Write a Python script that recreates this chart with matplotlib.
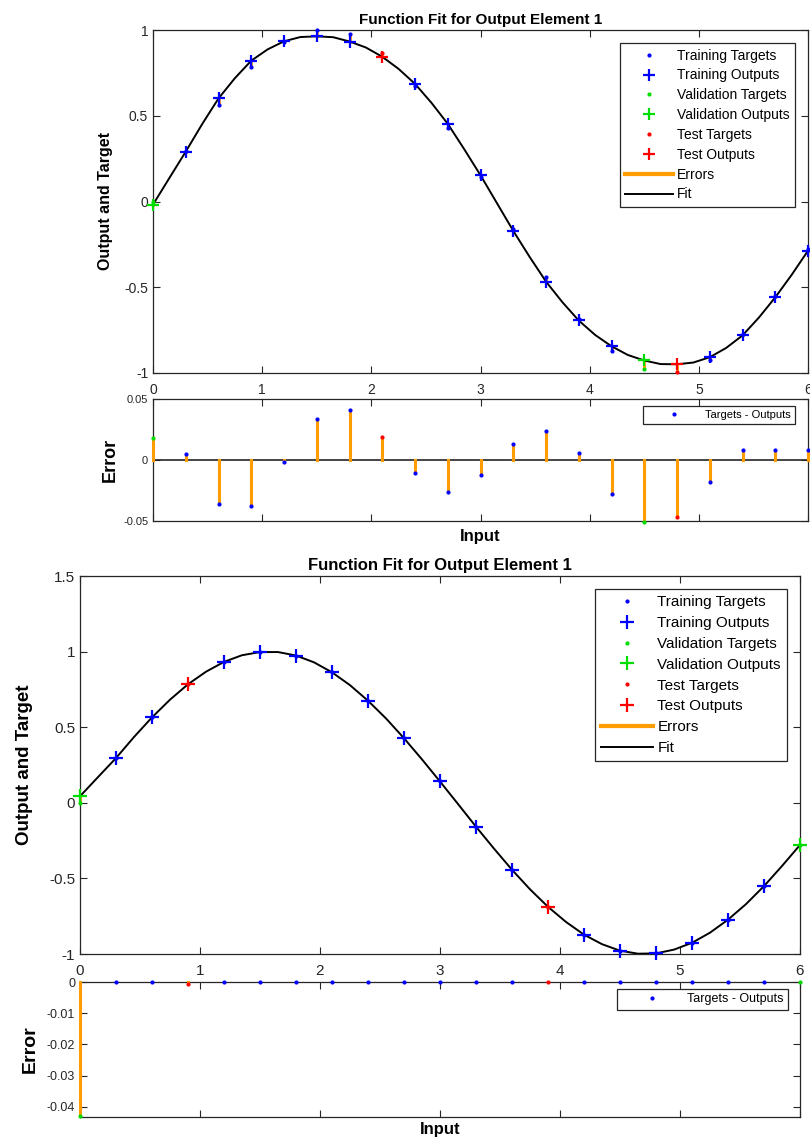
import numpy as np
import matplotlib
matplotlib.use("Agg")
import matplotlib.pyplot as plt
from matplotlib.lines import Line2D

plt.rcParams['font.family'] = ['Liberation Sans', 'DejaVu Sans']
plt.rcParams['axes.unicode_minus'] = False

# ---- data ----
inputs = [0.0, 0.3, 0.6, 0.9, 1.2, 1.5, 1.8, 2.1, 2.4, 2.7, 3.0,
          3.3, 3.6, 3.9, 4.2, 4.5, 4.8, 5.1, 5.4, 5.7, 6.0]
targets = [0.0, 0.2955, 0.5646, 0.7833, 0.9320, 0.9975, 0.9738, 0.8632, 0.6755, 0.4274, 0.1411,
           -0.1577, -0.4425, -0.6878, -0.8716, -0.9775, -0.9962, -0.9258, -0.7728, -0.5507, -0.2794]

# upper figure (targets - outputs)
errors_a = [0.018, 0.005, -0.036, -0.038, -0.002, 0.034, 0.041, 0.019, -0.011, -0.026, -0.012,
            0.013, 0.024, 0.006, -0.028, -0.051, -0.047, -0.018, 0.008, 0.008, 0.008]
sets_a = ['val', 'train', 'train', 'train', 'train', 'train', 'train', 'test', 'train', 'train', 'train',
          'train', 'train', 'train', 'train', 'val', 'test', 'train', 'train', 'train', 'train']

# lower figure
errors_b = [-0.043, 0.0, 0.0, -0.0008, 0.0, 0.0, 0.0, 0.0, 0.0, 0.0, 0.0,
            0.0, 0.0, 0.0, 0.0, 0.0, 0.0, 0.0, 0.0, 0.0, 0.0]
sets_b = ['val', 'train', 'train', 'test', 'train', 'train', 'train', 'train', 'train', 'train', 'train',
          'train', 'train', 'test', 'train', 'train', 'train', 'train', 'train', 'train', 'val']

# fitted curves, sampled every 0.15
fit_x = np.linspace(0, 6, 41)
fit_a = [-0.018, 0.137, 0.291, 0.451, 0.601, 0.719, 0.821, 0.887, 0.934, 0.959, 0.963,
         0.958, 0.933, 0.898, 0.844, 0.773, 0.686, 0.576, 0.453, 0.306, 0.153,
         -0.009, -0.171, -0.323, -0.467, -0.587, -0.694, -0.778, -0.844, -0.895, -0.927,
         -0.948, -0.949, -0.939, -0.908, -0.854, -0.781, -0.677, -0.559, -0.428, -0.287]
fit_b = [0.043, 0.170, 0.296, 0.435, 0.565, 0.682, 0.784, 0.867, 0.932, 0.976, 0.997,
         0.997, 0.974, 0.929, 0.863, 0.778, 0.675, 0.558, 0.427, 0.287, 0.141,
         -0.008, -0.158, -0.303, -0.443, -0.572, -0.688, -0.788, -0.872, -0.935, -0.978,
         -0.998, -0.996, -0.971, -0.926, -0.859, -0.773, -0.670, -0.551, -0.418, -0.279]

xticks = [0, 1, 2, 3, 4, 5, 6]
yticks_a = [-1, -0.5, 0, 0.5, 1]
ylabels_a = ['-1', '-0.5', '0', '0.5', '1']
eticks_a = [-0.05, 0, 0.05]
elabels_a = ['-0.05', '0', '0.05']
yticks_b = [-1, -0.5, 0, 0.5, 1, 1.5]
ylabels_b = ['-1', '-0.5', '0', '0.5', '1', '1.5']
eticks_b = [-0.04, -0.03, -0.02, -0.01, 0]
elabels_b = ['-0.04', '-0.03', '-0.02', '-0.01', '0']

set_colors = {'train': '#0000ff', 'val': '#00dd00', 'test': '#ff0000'}
ORANGE = '#ff9d00'
AXC = '#262626'


def style(ax, fs):
    ax.tick_params(direction='in', top=True, right=True, labelsize=fs, colors=AXC,
                   length=5, width=0.8)
    for s in ax.spines.values():
        s.set_color(AXC)
        s.set_linewidth(0.9)


def draw(fig, rect_fit, rect_err, errors, sets, fit_y, ylim, yt, ytl, elim, et, etl,
         sz, leg_anchor, eleg_anchor, ylab_x, elab_x):
    x = np.array(inputs)
    t = np.array(targets)
    e = np.array(errors)
    out = t - e

    ax = fig.add_axes(rect_fit)
    # errors between targets and outputs
    for xi, ti, oi in zip(x, t, out):
        ax.plot([xi, xi], [ti, oi], color=ORANGE, lw=2, zorder=2, clip_on=False)
    ax.plot(fit_x, fit_y, color='black', lw=1.4, zorder=3)
    for key in ['train', 'val', 'test']:
        m = np.array([s == key for s in sets])
        ax.plot(x[m], t[m], '.', color=set_colors[key], ms=4, zorder=4, clip_on=False)
        ax.plot(x[m], out[m], '+', color=set_colors[key], ms=sz['plus'], mew=1.6, zorder=5,
                clip_on=False)
    ax.set_xlim(0, 6)
    ax.set_ylim(*ylim)
    ax.set_xticks(xticks)
    ax.set_xticklabels([str(v) for v in xticks])
    ax.set_yticks(yt)
    ax.set_yticklabels(ytl)
    style(ax, sz['tick'])
    ax.tick_params(axis='x', pad=sz['xpad'])
    ax.set_title('Function Fit for Output Element 1', fontsize=sz['title'], fontweight='bold',
                 pad=4)
    ax.set_ylabel('Output and Target', fontsize=sz['ylab'], fontweight='bold')
    ax.yaxis.set_label_coords(ylab_x, 0.5)

    handles = [
        Line2D([], [], ls='none', marker='.', color=set_colors['train'], ms=4),
        Line2D([], [], ls='none', marker='+', color=set_colors['train'], ms=sz['plus'], mew=1.6),
        Line2D([], [], ls='none', marker='.', color=set_colors['val'], ms=4),
        Line2D([], [], ls='none', marker='+', color=set_colors['val'], ms=sz['plus'], mew=1.6),
        Line2D([], [], ls='none', marker='.', color=set_colors['test'], ms=4),
        Line2D([], [], ls='none', marker='+', color=set_colors['test'], ms=sz['plus'], mew=1.6),
        Line2D([], [], color=ORANGE, lw=3),
        Line2D([], [], color='black', lw=1.4),
    ]
    labels = ['Training Targets', 'Training Outputs', 'Validation Targets', 'Validation Outputs',
              'Test Targets', 'Test Outputs', 'Errors', 'Fit']
    leg = ax.legend(handles, labels, loc='upper right', bbox_to_anchor=leg_anchor,
                    bbox_transform=fig.transFigure, borderaxespad=0, fontsize=sz['leg'],
                    fancybox=False, framealpha=1, edgecolor=AXC, handlelength=3.4,
                    handletextpad=0.3, labelspacing=sz['lspace'], borderpad=0.4)
    leg.get_frame().set_linewidth(0.9)

    ax2 = fig.add_axes(rect_err)
    ax2.axhline(0, color=AXC, lw=1.2, zorder=1)
    for xi, ei in zip(x, e):
        ax2.plot([xi, xi], [0, ei], color=ORANGE, lw=2.2, zorder=3, clip_on=False)
    for key in ['train', 'val', 'test']:
        m = np.array([s == key for s in sets])
        ax2.plot(x[m], e[m], '.', color=set_colors[key], ms=4, zorder=4, clip_on=False)
    ax2.set_xlim(0, 6)
    ax2.set_ylim(*elim)
    ax2.set_xticks(xticks)
    ax2.set_xticklabels([])
    ax2.set_yticks(et)
    ax2.set_yticklabels(etl)
    style(ax2, sz['etick'])
    ax2.set_ylabel('Error', fontsize=sz['elab'], fontweight='bold')
    ax2.yaxis.set_label_coords(elab_x, 0.5)
    ax2.set_xlabel('Input', fontsize=sz['xlab'], fontweight='bold', labelpad=sz['xlabpad'])
    eleg = ax2.legend([Line2D([], [], ls='none', marker='.', color=set_colors['train'], ms=4)],
                      ['Targets - Outputs'], loc='upper right', bbox_to_anchor=eleg_anchor,
                      bbox_transform=fig.transFigure, borderaxespad=0, fontsize=sz['eleg'],
                      fancybox=False, framealpha=1, edgecolor=AXC, handlelength=5.0,
                      handletextpad=0.3, borderpad=0.35)
    eleg.get_frame().set_linewidth(0.9)


W, H = 810, 1140
fig = plt.figure(figsize=(W / 100, H / 100), dpi=100)


def rect(l, t, r, b):
    return [l / W, 1 - b / H, (r - l) / W, (b - t) / H]


sz_a = dict(tick=10, etick=8, title=11, ylab=11.5, elab=13, xlab=12, leg=10, eleg=8, plus=9,
            xpad=7, lspace=0.42, xlabpad=2)
sz_b = dict(tick=11, etick=9, title=12, ylab=13.5, elab=14, xlab=12, leg=11, eleg=9, plus=10,
            xpad=7, lspace=0.45, xlabpad=0)

draw(fig, rect(153, 30, 808, 373), rect(153, 399, 808, 521), errors_a, sets_a, fit_a,
     (-1, 1), yticks_a, ylabels_a, (-0.05, 0.05), eticks_a, elabels_a, sz_a,
     (795 / W, 1 - 43 / H), (795 / W, 1 - 406 / H), -0.061, -0.053)
draw(fig, rect(80, 576, 800, 954), rect(80, 982, 800, 1117), errors_b, sets_b, fit_b,
     (-1, 1.5), yticks_b, ylabels_b, (-0.0433, 0), eticks_b, elabels_b, sz_b,
     (787 / W, 1 - 589 / H), (788 / W, 1 - 989 / H), -0.065, -0.057)

fig.savefig('out.png', dpi=100)
